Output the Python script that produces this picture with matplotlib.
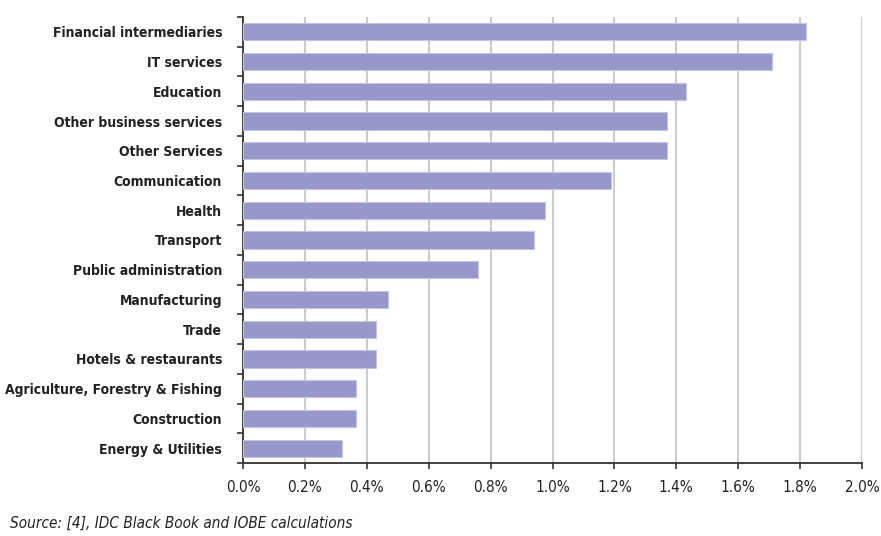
import matplotlib.pyplot as plt
import numpy as np
from matplotlib.ticker import FuncFormatter

# Categories (top to bottom)
sectors = ["Financial intermediaries", "IT services", "Education",
           "Other business services", "Other Services", "Communication",
           "Health", "Transport", "Public administration", "Manufacturing",
           "Trade", "Hotels & restaurants", "Agriculture, Forestry & Fishing",
           "Construction", "Energy & Utilities"]

# Values in percent
share = [1.82, 1.71, 1.43, 1.37, 1.37, 1.19, 0.975, 0.94, 0.76, 0.47,
         0.43, 0.43, 0.365, 0.365, 0.32]

xticks = [0.0, 0.2, 0.4, 0.6, 0.8, 1.0, 1.2, 1.4, 1.6, 1.8, 2.0]

plt.rcParams['font.family'] = ['DejaVu Sans']
plt.rcParams['font.stretch'] = 'condensed'

fig = plt.figure(figsize=(8.81, 5.36), dpi=100)
ax = fig.add_axes([243 / 881, 1 - 463 / 536, 619 / 881, 446 / 536])

y = np.arange(len(sectors))
ax.barh(y, share, height=0.58, color='#9797c9', edgecolor='#c4c4e4',
        linewidth=0.8, zorder=3)

ax.set_xlim(0, 2.0)
ax.set_ylim(len(sectors) - 0.5, -0.5)
ax.set_xticks(xticks)
ax.xaxis.set_major_formatter(FuncFormatter(lambda v, p: f"{v:.1f}%"))
ax.set_yticks(y)
ax.set_yticklabels(sectors, fontsize=10, fontweight='bold', color='#222222')
ax.set_yticks(np.arange(-0.5, len(sectors)), minor=True)
ax.tick_params(axis='y', which='major', length=0, pad=15)
ax.tick_params(axis='y', which='minor', length=4, width=1.2, color='#333333')
ax.tick_params(axis='x', length=4, width=1.2, color='#333333',
               labelsize=11, pad=8, labelcolor='#222222')

ax.grid(axis='x', color='#cccccc', linewidth=1.5, zorder=0)
for s in ['top', 'right']:
    ax.spines[s].set_visible(False)
for s in ['left', 'bottom']:
    ax.spines[s].set_color('#333333')
    ax.spines[s].set_linewidth(1.3)

fig.text(10 / 881, 1 - 523 / 536, "Source: [4], IDC Black Book and IOBE calculations",
         fontsize=11, style='italic', color='#222222', va='center')

plt.savefig('out.png', dpi=100)
